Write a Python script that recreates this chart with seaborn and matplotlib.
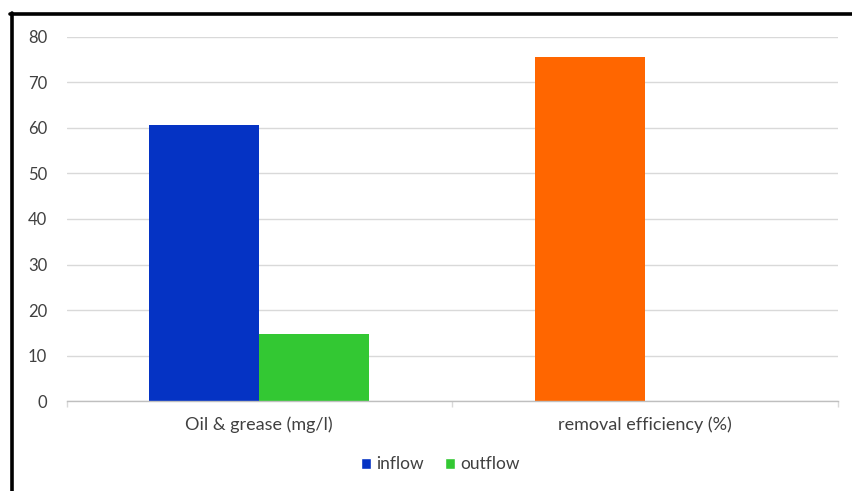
import pandas as pd
import numpy as np
import matplotlib.pyplot as plt
import seaborn as sns
from matplotlib.lines import Line2D
from matplotlib.patches import Patch

sns.set_theme(style="white")
plt.rcParams['font.family'] = ['Lato', 'DejaVu Sans']

# data
categories = ['Oil & grease (mg/l)', 'removal efficiency (%)']
inflow = [60.6, 75.5]
outflow = [14.8, np.nan]
series = ['inflow', 'outflow']
colors = {'inflow': '#0533C4', 'outflow': '#33C833'}
efficiency_color = '#FF6600'

df = pd.DataFrame({
    'category': categories * 2,
    'series': ['inflow'] * 2 + ['outflow'] * 2,
    'value': inflow + outflow,
})

fig = plt.figure(figsize=(8.53, 4.91), dpi=100)
ax = fig.add_axes([0.078, 0.183, 0.904, 0.742])

sns.barplot(data=df, x='category', y='value', hue='series', order=categories,
            hue_order=series, palette=colors, width=0.57, saturation=1,
            errorbar=None, ax=ax, legend=False, linewidth=0)

# the efficiency bar is drawn in orange in the original
for p in ax.patches:
    x_mid = p.get_x() + p.get_width() / 2
    if x_mid > 0.5 and p.get_height() > 0:
        p.set_facecolor(efficiency_color)

ax.set_xlim(-0.5, 1.5)
ax.set_ylim(0, 80)
ax.set_yticks(range(0, 81, 10))
ax.yaxis.grid(True, color='#D9D9D9', linewidth=1)
ax.set_axisbelow(True)
for s in ['top', 'left', 'right']:
    ax.spines[s].set_visible(False)
ax.spines['bottom'].set_color('#BFBFBF')
ax.spines['bottom'].set_linewidth(1)

ax.set_xticks([0, 1])
ax.set_xticklabels(categories)
ax.set_xticks([-0.5, 0.5, 1.5], minor=True)
ax.tick_params(axis='x', which='major', length=0, pad=11, labelsize=13, labelcolor='#404040')
ax.tick_params(axis='x', which='minor', length=4, color='#D9D9D9', bottom=True)
ax.tick_params(axis='y', length=0, pad=14, labelsize=12, labelcolor='#404040')
ax.set_xlabel('')
ax.set_ylabel('')

handles = [Patch(facecolor=colors[s], label=s) for s in series]
fig.legend(handles=handles, loc='center', bbox_to_anchor=(0.516, 0.054), ncol=2,
           frameon=False, fontsize=12.5, handlelength=0.6, handleheight=0.6,
           handletextpad=0.3, columnspacing=1.2, labelcolor='#404040')

# black frame on top and left, as in the cropped screenshot
fig.add_artist(Line2D([0.012, 1.0], [0.971, 0.971], color='black', linewidth=2.6,
                      transform=fig.transFigure))
fig.add_artist(Line2D([0.014, 0.014], [0.0, 0.973], color='black', linewidth=2.6,
                      transform=fig.transFigure))

plt.savefig('out.png', dpi=100)
plt.close()
